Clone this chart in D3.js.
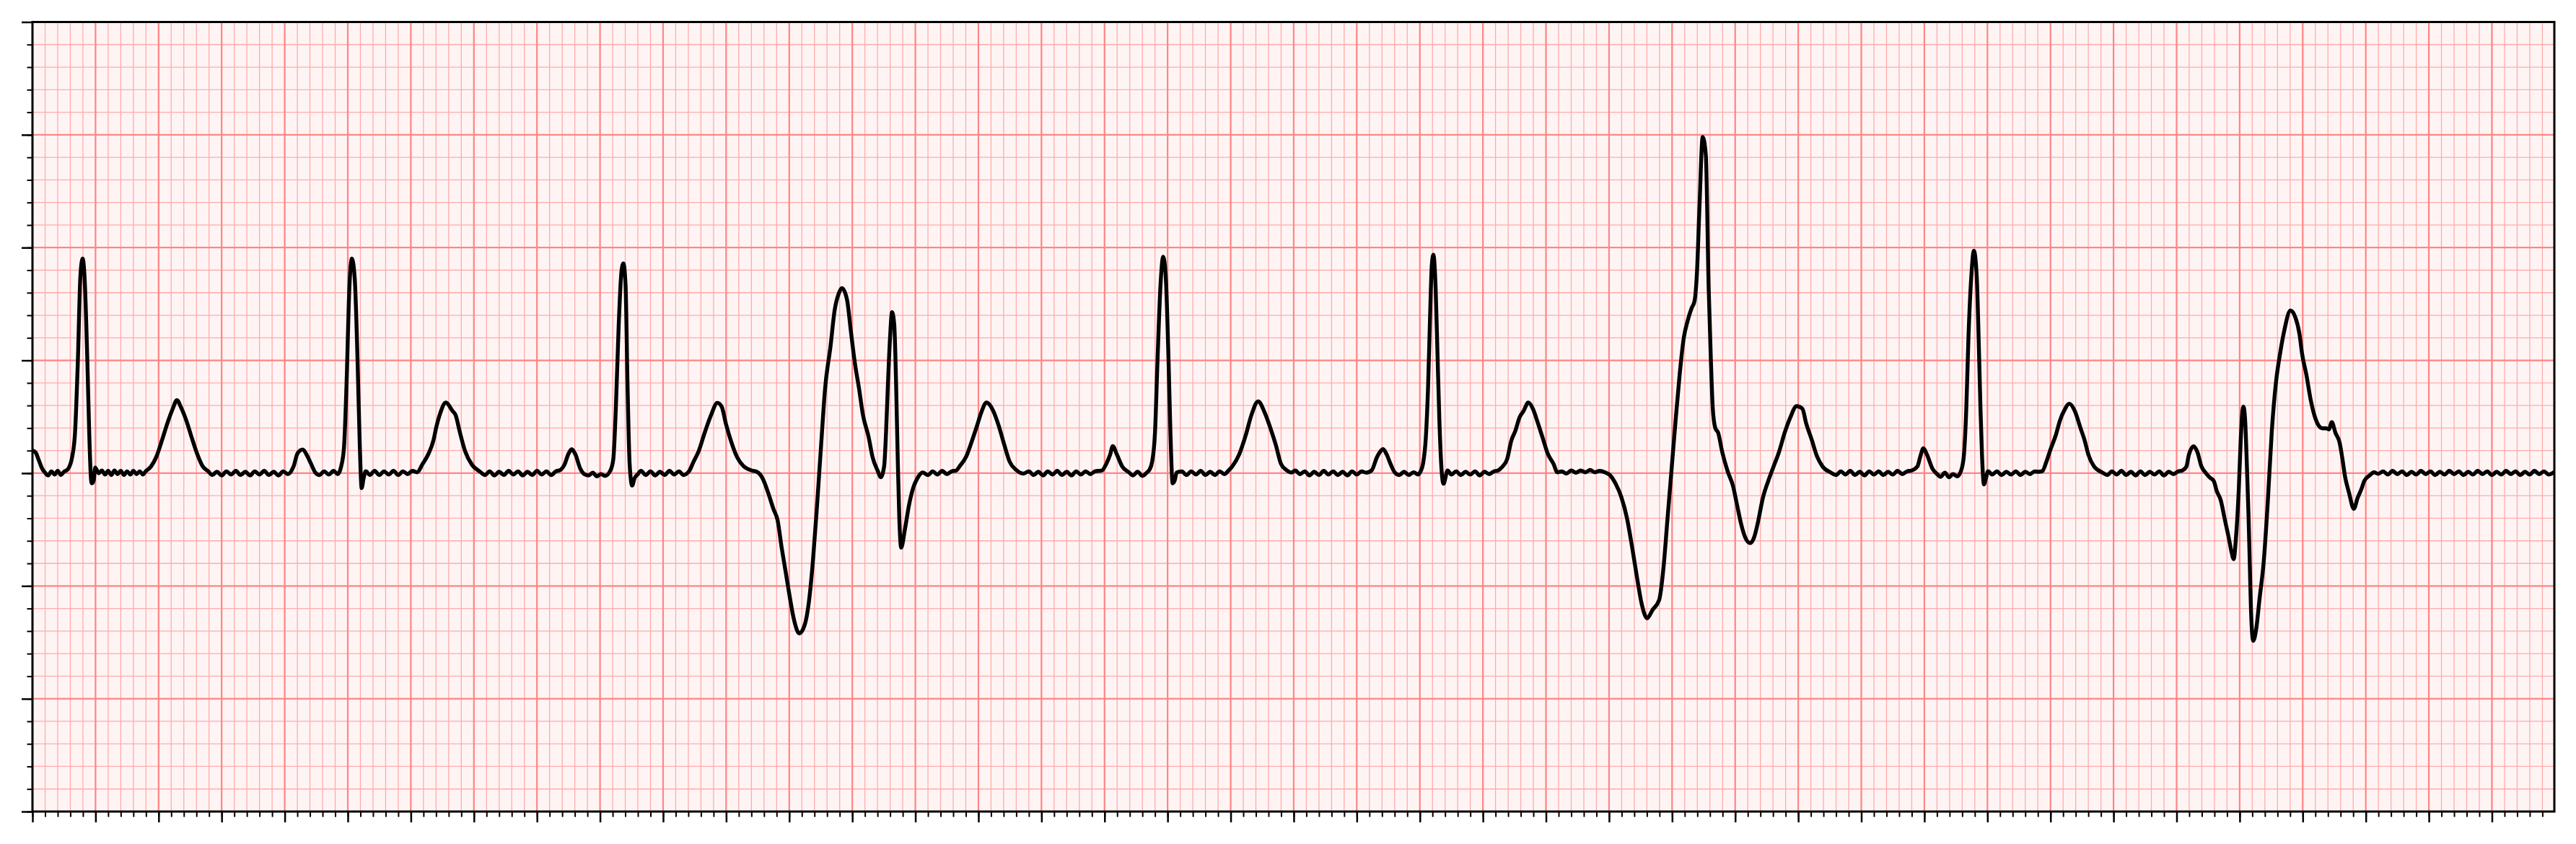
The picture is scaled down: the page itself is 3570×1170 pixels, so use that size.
<!DOCTYPE html>
<html><head><meta charset="utf-8">
<script src="https://cdn.jsdelivr.net/npm/d3@7"></script>
<style>html,body{margin:0;padding:0;background:#fff;} svg{display:block;}</style>
</head><body><svg id="chart" width="3570" height="1170"></svg>
<script>
// ECG trace, [time (s), voltage (mV)], split by segment
const beat1 = [[0.000,0.100],[0.010,0.092],[0.020,0.058],[0.030,0.022],[0.040,0.002],[0.050,-0.010],[0.060,0.008],[0.070,-0.006],[0.080,0.010],[0.090,-0.008],[0.100,0.006],[0.113,0.019],[0.126,0.073],[0.135,0.180],[0.144,0.500],[0.152,0.874],[0.159,0.951],[0.165,0.874],[0.174,0.500],[0.180,0.180],[0.185,-0.013],[0.188,-0.045],[0.194,-0.034],[0.199,0.025],[0.210,0.000],[0.220,0.012],[0.230,-0.006],[0.240,0.010],[0.250,-0.008],[0.260,0.012],[0.270,-0.004],[0.280,0.010],[0.290,-0.008],[0.300,0.008],[0.310,-0.006],[0.320,0.010],[0.330,-0.004],[0.340,0.008],[0.350,-0.006],[0.359,0.008],[0.376,0.030],[0.393,0.073],[0.411,0.147],[0.428,0.222],[0.445,0.286],[0.458,0.324],[0.471,0.292],[0.488,0.233],[0.505,0.158],[0.523,0.083],[0.540,0.030],[0.557,0.009]];
const beat2 = [[0.570,-0.008],[0.585,0.006],[0.600,-0.010],[0.615,0.008],[0.630,-0.006],[0.645,0.010],[0.660,-0.008],[0.675,0.006],[0.690,-0.010],[0.705,0.008],[0.720,-0.006],[0.735,0.010],[0.750,-0.008],[0.765,0.006],[0.780,-0.010],[0.795,0.008],[0.810,-0.004],[0.828,0.030],[0.841,0.089],[0.857,0.105],[0.871,0.078],[0.884,0.040],[0.897,0.003],[0.910,-0.008],[0.925,0.008],[0.940,-0.006],[0.955,0.010],[0.968,-0.004],[0.979,0.030],[0.988,0.115],[0.996,0.393],[1.005,0.820],[1.013,0.951],[1.022,0.863],[1.031,0.500],[1.038,0.126],[1.044,-0.066],[1.050,-0.024],[1.057,0.009]];
const beat2T = [[1.070,-0.008],[1.085,0.010],[1.100,-0.008],[1.115,0.008],[1.130,-0.006],[1.145,0.010],[1.160,-0.008],[1.175,0.008],[1.190,-0.004],[1.205,0.010],[1.220,0.004],[1.237,0.040],[1.255,0.083],[1.272,0.147],[1.280,0.200],[1.293,0.265],[1.311,0.313],[1.332,0.276],[1.342,0.257],[1.355,0.184],[1.372,0.098],[1.394,0.037],[1.420,0.006],[1.435,-0.008],[1.450,0.008],[1.465,-0.010],[1.480,0.006],[1.495,-0.008],[1.510,0.010],[1.525,-0.006],[1.540,0.008],[1.555,-0.010],[1.570,0.006],[1.585,-0.008],[1.600,0.010],[1.615,-0.006],[1.630,0.008],[1.645,-0.008],[1.660,0.008],[1.675,0.015],[1.687,0.037],[1.700,0.086],[1.710,0.106],[1.721,0.086],[1.738,0.018],[1.750,-0.004],[1.764,-0.010],[1.777,0.002],[1.790,-0.014],[1.803,-0.004],[1.816,-0.012],[1.833,0.012]];
const beat3Pvc1 = [[1.842,0.061],[1.850,0.282],[1.859,0.649],[1.868,0.894],[1.874,0.930],[1.881,0.832],[1.887,0.404],[1.894,0.037],[1.902,-0.055],[1.909,-0.024],[1.919,-0.006],[1.930,0.010],[1.945,-0.008],[1.960,0.008],[1.975,-0.010],[1.990,0.006],[2.005,-0.008],[2.020,0.010],[2.035,-0.006],[2.050,0.008],[2.065,-0.008],[2.083,0.010],[2.096,0.049],[2.113,0.098],[2.130,0.171],[2.152,0.257],[2.172,0.312],[2.186,0.294],[2.199,0.220],[2.217,0.135],[2.234,0.073],[2.255,0.031],[2.281,0.012],[2.298,0.006],[2.316,-0.024],[2.333,-0.086],[2.350,-0.159],[2.363,-0.208],[2.376,-0.330],[2.389,-0.440],[2.402,-0.551],[2.415,-0.649],[2.432,-0.710],[2.449,-0.673],[2.462,-0.575],[2.475,-0.392],[2.488,-0.147],[2.501,0.122],[2.514,0.379],[2.531,0.563],[2.544,0.722],[2.557,0.796],[2.567,0.820],[2.583,0.771],[2.596,0.624],[2.608,0.490],[2.621,0.379],[2.634,0.257],[2.652,0.159],[2.664,0.073],[2.681,0.009],[2.690,-0.018],[2.701,0.030],[2.707,0.179],[2.713,0.393],[2.720,0.607],[2.726,0.714],[2.733,0.660],[2.739,0.393],[2.744,0.073],[2.749,-0.194],[2.755,-0.330],[2.767,-0.248],[2.780,-0.141],[2.793,-0.066],[2.806,-0.024],[2.823,0.003]];
const beat4 = [[2.840,-0.008],[2.855,0.008],[2.870,-0.006],[2.885,0.010],[2.900,-0.004],[2.915,0.008],[2.930,0.012],[2.940,0.030],[2.961,0.073],[2.978,0.137],[2.996,0.212],[3.008,0.265],[3.026,0.313],[3.047,0.276],[3.064,0.212],[3.082,0.126],[3.099,0.051],[3.120,0.014],[3.142,-0.002],[3.160,0.008],[3.175,-0.008],[3.190,0.006],[3.205,-0.010],[3.220,0.008],[3.235,-0.006],[3.250,0.010],[3.265,-0.008],[3.280,0.006],[3.295,-0.010],[3.310,0.008],[3.325,-0.006],[3.340,0.008],[3.355,-0.004],[3.370,0.008],[3.392,0.012],[3.405,0.040],[3.418,0.083],[3.426,0.120],[3.439,0.083],[3.456,0.030],[3.478,0.003],[3.490,-0.010],[3.505,0.006],[3.520,-0.012],[3.535,0.004],[3.542,0.014],[3.551,0.051],[3.560,0.179],[3.568,0.500],[3.577,0.820],[3.586,0.959],[3.594,0.874],[3.603,0.500],[3.609,0.179],[3.616,-0.045],[3.622,-0.034],[3.629,0.003]];
const beat5 = [[3.645,0.008],[3.660,-0.008],[3.675,0.008],[3.690,-0.006],[3.705,0.010],[3.720,-0.008],[3.735,0.006],[3.750,-0.008],[3.765,0.008],[3.780,-0.004],[3.792,0.010],[3.805,0.030],[3.827,0.083],[3.848,0.169],[3.865,0.254],[3.887,0.318],[3.909,0.265],[3.926,0.200],[3.943,0.126],[3.960,0.040],[3.977,0.014],[3.993,0.003],[4.005,0.012],[4.020,-0.004],[4.035,0.008],[4.050,-0.010],[4.065,0.006],[4.080,-0.008],[4.095,0.010],[4.110,-0.006],[4.125,0.008],[4.140,-0.008],[4.155,0.006],[4.170,-0.010],[4.185,0.008],[4.200,-0.006],[4.215,0.008],[4.230,0.002],[4.247,0.012],[4.264,0.071],[4.277,0.100],[4.283,0.107],[4.294,0.085],[4.307,0.041],[4.320,0.004],[4.335,-0.008],[4.350,0.006],[4.365,-0.008],[4.380,0.004],[4.395,-0.006],[4.403,0.010],[4.410,0.041],[4.419,0.159],[4.426,0.379],[4.432,0.674],[4.438,0.924],[4.443,0.968],[4.450,0.821],[4.456,0.526],[4.462,0.232],[4.469,0.012],[4.475,-0.047],[4.488,0.012]];
const beat5Pvc2 = [[4.500,-0.006],[4.515,0.008],[4.530,-0.008],[4.545,0.006],[4.560,-0.006],[4.575,0.008],[4.590,-0.010],[4.605,0.006],[4.620,-0.004],[4.635,0.008],[4.648,0.012],[4.660,0.026],[4.677,0.063],[4.690,0.144],[4.703,0.188],[4.716,0.247],[4.729,0.276],[4.744,0.313],[4.759,0.284],[4.772,0.232],[4.789,0.159],[4.806,0.085],[4.824,0.041],[4.836,0.004],[4.850,0.008],[4.865,-0.002],[4.880,0.012],[4.895,0.002],[4.910,0.012],[4.925,0.004],[4.940,0.014],[4.955,0.004],[4.970,0.010],[4.987,0.004],[5.004,-0.010],[5.021,-0.047],[5.039,-0.106],[5.056,-0.194],[5.073,-0.326],[5.090,-0.474],[5.103,-0.576],[5.121,-0.643],[5.138,-0.606],[5.159,-0.562],[5.172,-0.429],[5.185,-0.209],[5.198,0.012],[5.211,0.232],[5.224,0.438],[5.237,0.600],[5.249,0.674],[5.262,0.732],[5.271,0.762],[5.279,0.894],[5.287,1.188],[5.297,1.490],[5.307,1.409],[5.316,0.820],[5.323,0.500],[5.329,0.286],[5.337,0.200],[5.346,0.179],[5.359,0.094],[5.376,0.009],[5.393,-0.056],[5.406,-0.141],[5.419,-0.226],[5.432,-0.285],[5.448,-0.310],[5.460,-0.285],[5.471,-0.226],[5.488,-0.109],[5.505,-0.034],[5.522,0.030],[5.539,0.094],[5.557,0.179],[5.574,0.244],[5.595,0.297],[5.613,0.286],[5.625,0.222],[5.643,0.147],[5.660,0.073],[5.677,0.030],[5.703,0.003]];
const beat6 = [[5.720,-0.008],[5.735,0.008],[5.750,-0.006],[5.765,0.010],[5.780,-0.008],[5.795,0.006],[5.810,-0.010],[5.825,0.008],[5.840,-0.006],[5.855,0.008],[5.870,-0.008],[5.885,0.006],[5.900,-0.006],[5.915,0.010],[5.930,-0.004],[5.945,0.008],[5.960,0.012],[5.978,0.030],[5.987,0.073],[5.997,0.110],[6.008,0.083],[6.026,0.019],[6.039,-0.002],[6.052,-0.016],[6.065,0.002],[6.078,-0.018],[6.091,-0.004],[6.104,-0.014],[6.116,0.009],[6.125,0.073],[6.133,0.286],[6.140,0.607],[6.149,0.874],[6.157,0.986],[6.166,0.874],[6.172,0.607],[6.178,0.286],[6.183,0.073],[6.189,-0.050],[6.195,-0.024],[6.202,0.009],[6.215,-0.006],[6.230,0.008],[6.245,-0.008],[6.260,0.006],[6.275,-0.006],[6.290,0.008],[6.305,-0.008],[6.320,0.006],[6.335,-0.004],[6.350,0.008],[6.362,0.006],[6.374,0.009],[6.387,0.051],[6.400,0.105],[6.417,0.169],[6.430,0.233],[6.443,0.276],[6.460,0.308],[6.477,0.276],[6.495,0.201],[6.508,0.147],[6.520,0.083],[6.538,0.030],[6.564,0.003]];
const beat7Pvc3 = [[6.580,-0.008],[6.595,0.008],[6.610,-0.006],[6.625,0.010],[6.640,-0.008],[6.655,0.006],[6.670,-0.010],[6.685,0.008],[6.700,-0.008],[6.715,0.006],[6.730,-0.006],[6.745,0.008],[6.760,-0.010],[6.775,0.006],[6.790,-0.004],[6.805,0.008],[6.818,0.012],[6.831,0.029],[6.839,0.082],[6.854,0.119],[6.866,0.093],[6.879,0.029],[6.892,0.002],[6.905,-0.019],[6.918,-0.035],[6.927,-0.078],[6.940,-0.120],[6.953,-0.206],[6.966,-0.291],[6.975,-0.355],[6.981,-0.381],[6.988,-0.291],[6.997,-0.078],[7.003,0.135],[7.008,0.263],[7.012,0.295],[7.017,0.242],[7.023,0.029],[7.028,-0.184],[7.032,-0.397],[7.036,-0.610],[7.043,-0.743],[7.052,-0.695],[7.063,-0.557],[7.076,-0.397],[7.089,-0.131],[7.102,0.188],[7.115,0.401],[7.128,0.529],[7.142,0.636],[7.161,0.721],[7.177,0.689],[7.190,0.614],[7.198,0.529],[7.212,0.433],[7.225,0.327],[7.238,0.252],[7.251,0.210],[7.262,0.199],[7.273,0.199],[7.283,0.194],[7.292,0.226],[7.304,0.178],[7.317,0.135],[7.325,0.071],[7.334,-0.014],[7.347,-0.088],[7.362,-0.158],[7.374,-0.110],[7.387,-0.067],[7.395,-0.035],[7.413,-0.009],[7.426,0.004],[7.439,-0.003]];
const tail = [[7.455,0.008],[7.470,-0.006],[7.485,0.010],[7.500,-0.004],[7.515,0.008],[7.530,-0.008],[7.545,0.006],[7.560,-0.006],[7.575,0.010],[7.590,-0.004],[7.605,0.008],[7.620,-0.008],[7.635,0.006],[7.650,-0.006],[7.665,0.010],[7.680,-0.004],[7.695,0.008],[7.710,-0.008],[7.725,0.006],[7.740,-0.006],[7.755,0.010],[7.770,-0.004],[7.785,0.008],[7.800,-0.008],[7.815,0.006],[7.830,-0.006],[7.845,0.010],[7.860,-0.004],[7.875,0.008],[7.890,-0.008],[7.905,0.006],[7.920,-0.006],[7.935,0.010],[7.950,-0.004],[7.965,0.008],[7.980,-0.006],[7.996,0.004]];

// Axis extents (s, mV) and grid spacing (ECG paper)
const timeDomain = [0, 7.998];
const mvDomain = [-1.5, 2.0];
const majorStepT = 0.2, minorStepT = 0.04;
const majorStepV = 0.5, minorStepV = 0.1;

const ecg = [].concat(beat1, beat2, beat2T, beat3Pvc1, beat4, beat5, beat5Pvc2, beat6, beat7Pvc3, tail);

const L = 45, R = 3540, T = 30.5, B = 1125;
const x = d3.scaleLinear().domain(timeDomain).range([L, R]);
const y = d3.scaleLinear().domain(mvDomain).range([B, T]);

const xMinor = d3.range(0, Math.round(timeDomain[1] / minorStepT) + 1).map(i => +(i * minorStepT).toFixed(3)).filter(v => v <= timeDomain[1]);
const xMajor = d3.range(0, Math.round(timeDomain[1] / majorStepT) + 1).map(i => +(i * majorStepT).toFixed(3)).filter(v => v <= timeDomain[1]);
const yMinor = d3.range(0, Math.round((mvDomain[1] - mvDomain[0]) / minorStepV) + 1).map(i => +(mvDomain[0] + i * minorStepV).toFixed(3));
const yMajor = d3.range(0, Math.round((mvDomain[1] - mvDomain[0]) / majorStepV) + 1).map(i => +(mvDomain[0] + i * majorStepV).toFixed(3));

const svg = d3.select("#chart");
svg.append("rect").attr("x", 0).attr("y", 0).attr("width", 3570).attr("height", 1170).attr("fill", "#ffffff");
svg.append("rect").attr("x", L).attr("y", T).attr("width", R - L).attr("height", B - T).attr("fill", "#fff4f4");

const grid = svg.append("g");
grid.selectAll(".vmin").data(xMinor).join("line")
  .attr("x1", d => x(d)).attr("x2", d => x(d)).attr("y1", T).attr("y2", B)
  .attr("stroke", "#ffabab").attr("stroke-width", 1.3);
grid.selectAll(".hmin").data(yMinor).join("line")
  .attr("y1", d => y(d)).attr("y2", d => y(d)).attr("x1", L).attr("x2", R)
  .attr("stroke", "#ffabab").attr("stroke-width", 1.3);
grid.selectAll(".vmaj").data(xMajor).join("line")
  .attr("x1", d => x(d)).attr("x2", d => x(d)).attr("y1", T).attr("y2", B)
  .attr("stroke", "#ff8686").attr("stroke-width", 2.2);
grid.selectAll(".hmaj").data(yMajor).join("line")
  .attr("y1", d => y(d)).attr("y2", d => y(d)).attr("x1", L).attr("x2", R)
  .attr("stroke", "#ff8686").attr("stroke-width", 2.2);

svg.append("clipPath").attr("id", "plotclip").append("rect")
  .attr("x", L).attr("y", T).attr("width", R - L).attr("height", B - T);

const line = d3.line().x(d => x(d[0])).y(d => y(d[1])).curve(d3.curveMonotoneX);
svg.append("path").datum(ecg).attr("clip-path", "url(#plotclip)")
  .attr("d", line).attr("fill", "none").attr("stroke", "#000")
  .attr("stroke-width", 5.4).attr("stroke-linejoin", "round").attr("stroke-linecap", "round");

// Axes (ticks without labels)
const axMinX = svg.append("g").attr("transform", `translate(0,${B})`)
  .call(d3.axisBottom(x).tickValues(xMinor).tickSize(7.5).tickSizeOuter(0).tickFormat(""));
const axMajX = svg.append("g").attr("transform", `translate(0,${B})`)
  .call(d3.axisBottom(x).tickValues(xMajor).tickSize(15).tickSizeOuter(0).tickFormat(""));
const axMinY = svg.append("g").attr("transform", `translate(${L},0)`)
  .call(d3.axisLeft(y).tickValues(yMinor).tickSize(7.5).tickSizeOuter(0).tickFormat(""));
const axMajY = svg.append("g").attr("transform", `translate(${L},0)`)
  .call(d3.axisLeft(y).tickValues(yMajor).tickSize(15).tickSizeOuter(0).tickFormat(""));
[axMinX, axMajX, axMinY, axMajY].forEach(g => g.select(".domain").remove());
[axMinX, axMinY].forEach(g => g.selectAll(".tick line").attr("stroke", "#000").attr("stroke-width", 2));
[axMajX, axMajY].forEach(g => g.selectAll(".tick line").attr("stroke", "#000").attr("stroke-width", 2.5));

svg.append("rect").attr("x", L).attr("y", T).attr("width", R - L).attr("height", B - T)
  .attr("fill", "none").attr("stroke", "#000").attr("stroke-width", 3);
</script>
</body></html>
